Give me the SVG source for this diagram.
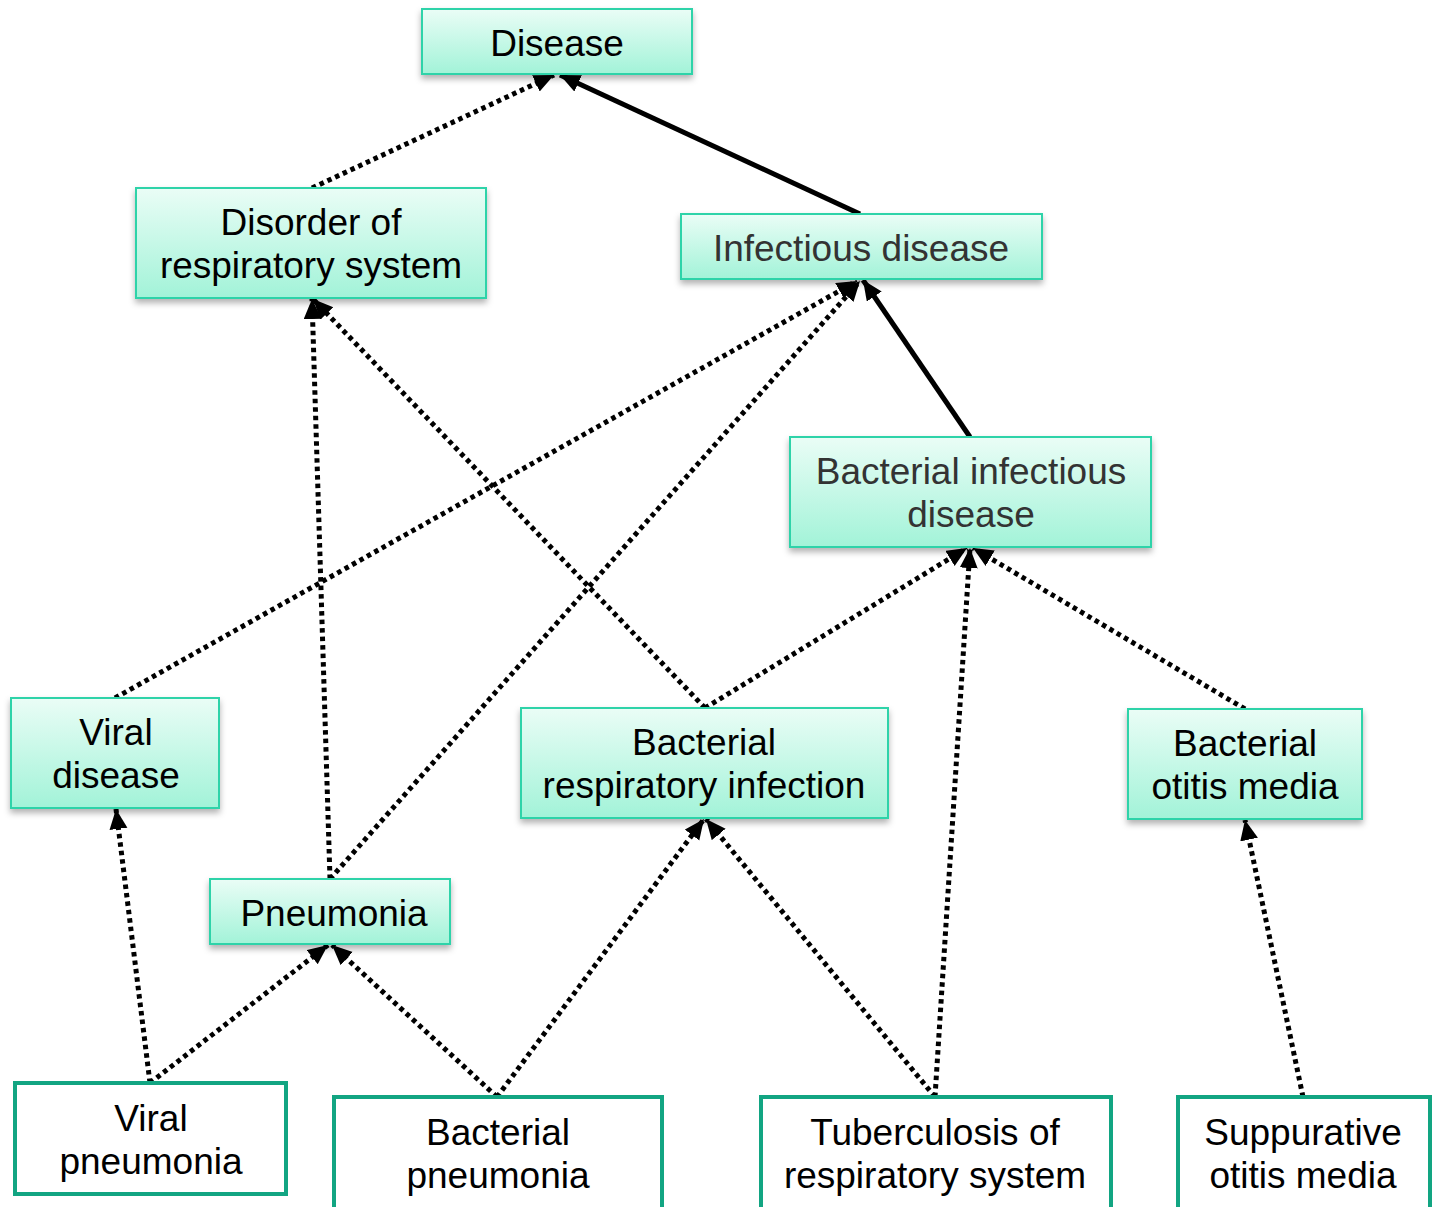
<svg xmlns="http://www.w3.org/2000/svg" width="1435" height="1207" viewBox="0 0 1435 1207">
<defs>
<linearGradient id="g" x1="0" y1="0" x2="0" y2="1">
<stop offset="0" stop-color="#eafdf6"/>
<stop offset="1" stop-color="#a2f3d8"/>
</linearGradient>
<filter id="sh" x="-10%" y="-20%" width="120%" height="150%">
<feDropShadow dx="0" dy="4" stdDeviation="3" flood-color="#000" flood-opacity="0.3"/>
</filter>
<marker id="ah" markerUnits="userSpaceOnUse" markerWidth="24" markerHeight="20" refX="20" refY="9" orient="auto">
<path d="M0,0 L20,9 L0,18 z" fill="#000"/>
</marker>
</defs>
<style>
.gn rect{fill:url(#g);stroke:#2fd3a9;stroke-width:2;filter:url(#sh)}
.wn rect{fill:#fff;stroke:#12a582;stroke-width:4}
text{font-family:"Liberation Sans",Arial,sans-serif;font-size:37px;text-anchor:middle;fill:#000}
text.gray{fill:#333}
.e line{stroke:#000;stroke-width:5;marker-end:url(#ah)}
.e line.d{stroke-dasharray:4.5 4}
</style>
<rect width="1435" height="1207" fill="#fff"/>
<g class="e" id="connectors">
<line class="d" x1="312" y1="188" x2="554" y2="75"/>
<line x1="860" y1="214" x2="560" y2="75"/>
<line x1="970" y1="437" x2="863" y2="280"/>
<line class="d" x1="115" y1="698" x2="857" y2="281"/>
<line class="d" x1="330" y1="879" x2="860" y2="281"/>
<line class="d" x1="330" y1="879" x2="312" y2="299"/>
<line class="d" x1="705" y1="708" x2="313" y2="299"/>
<line class="d" x1="705" y1="708" x2="967" y2="548"/>
<line class="d" x1="1245" y1="709" x2="973" y2="548"/>
<line class="d" x1="935" y1="1097" x2="970" y2="548"/>
<line class="d" x1="935" y1="1097" x2="706" y2="819"/>
<line class="d" x1="497" y1="1097" x2="704" y2="819"/>
<line class="d" x1="497" y1="1097" x2="332" y2="945"/>
<line class="d" x1="150" y1="1083" x2="328" y2="945"/>
<line class="d" x1="150" y1="1083" x2="116" y2="809"/>
<line class="d" x1="1303" y1="1097" x2="1245" y2="820"/>
</g>
<g id="disease" class="gn"><rect x="422" y="9" width="270" height="65"/><text x="557" y="56">Disease</text></g>
<g id="disorder" class="gn"><rect x="136" y="188" width="350" height="110"/><text x="311" y="235">Disorder of</text><text x="311" y="278">respiratory system</text></g>
<g id="infectious" class="gn"><rect x="681" y="214" width="361" height="65"/><text class="gray" x="861" y="261">Infectious disease</text></g>
<g id="bacterial-infectious" class="gn"><rect x="790" y="437" width="361" height="110"/><text class="gray" x="971" y="484">Bacterial infectious</text><text class="gray" x="971" y="527">disease</text></g>
<g id="viral-disease" class="gn"><rect x="11" y="698" width="208" height="110"/><text x="116" y="745">Viral</text><text x="116" y="788">disease</text></g>
<g id="bacterial-respiratory" class="gn"><rect x="521" y="708" width="367" height="110"/><text x="704" y="755">Bacterial</text><text x="704" y="798">respiratory infection</text></g>
<g id="bacterial-otitis" class="gn"><rect x="1128" y="709" width="234" height="110"/><text x="1245" y="756">Bacterial</text><text x="1245" y="799">otitis media</text></g>
<g id="pneumonia" class="gn"><rect x="210" y="879" width="240" height="65"/><text x="334" y="926">Pneumonia</text></g>
<g id="viral-pneumonia" class="wn"><rect x="15" y="1083" width="271" height="111"/><text x="151" y="1131">Viral</text><text x="151" y="1174">pneumonia</text></g>
<g id="bacterial-pneumonia" class="wn"><rect x="334" y="1097" width="328" height="112"/><text x="498" y="1145">Bacterial</text><text x="498" y="1188">pneumonia</text></g>
<g id="tuberculosis" class="wn"><rect x="761" y="1097" width="350" height="112"/><text x="935" y="1145">Tuberculosis of</text><text x="935" y="1188">respiratory system</text></g>
<g id="suppurative" class="wn"><rect x="1178" y="1097" width="252" height="112"/><text x="1303" y="1145">Suppurative</text><text x="1303" y="1188">otitis media</text></g>
</svg>
